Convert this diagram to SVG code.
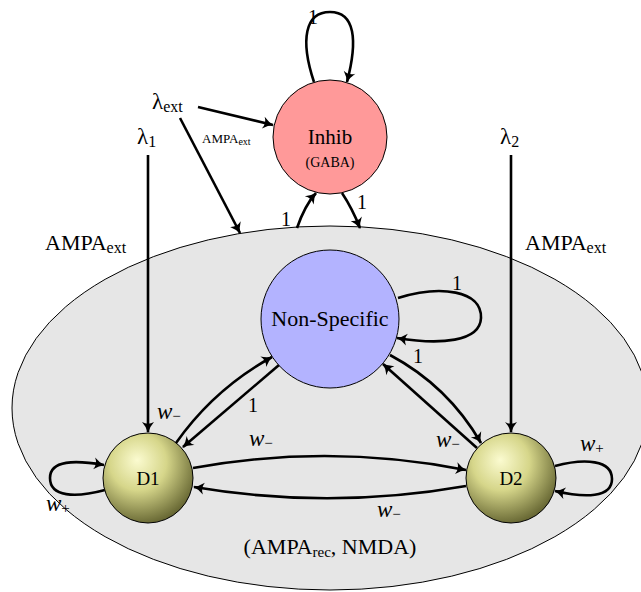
<svg xmlns="http://www.w3.org/2000/svg" width="641" height="592" viewBox="0 0 641 592">
<style>
text{font-family:"Liberation Serif","DejaVu Serif",serif;fill:#000}
.e{fill:none;stroke:#000;stroke-width:2.6;marker-end:url(#ah)}
.n{stroke:#000;stroke-width:1}
.lbl{font-size:20px}
.w{font-size:23px;font-style:italic}
.sub{font-size:15px;font-style:normal}
</style>
<defs>
<marker id="ah" markerUnits="userSpaceOnUse" markerWidth="16" markerHeight="16" viewBox="-12 -8 14 16" refX="0" refY="0" orient="auto">
<path d="M1,0 Q-5,-1.5 -10,-6 Q-6.5,0 -10,6 Q-5,1.5 1,0Z" fill="#000"/>
</marker>
<radialGradient id="ball" cx="40%" cy="35%" r="70%" fx="38%" fy="30%">
<stop offset="0" stop-color="#fbfbd0"/>
<stop offset="0.45" stop-color="#d6d68a"/>
<stop offset="1" stop-color="#5e5e2c"/>
</radialGradient>
</defs>
<g id="population">
<ellipse cx="330" cy="408" rx="318" ry="182" fill="#e6e6e6" class="n"/>
<text x="330" y="554" font-size="22" text-anchor="middle">(AMPA<tspan font-size="15" dy="3">rec</tspan><tspan dy="-3">, NMDA)</tspan></text>
</g>
<g id="connectors">
<path class="e" d="M314,82 C300,40 305,12 330,12 C355,12 358,40 347,82"/>
<path class="e" d="M198,107 L273,125"/>
<path class="e" d="M180,118 L240,233"/>
<path class="e" d="M297,228 Q305,205 316,193"/>
<path class="e" d="M342,193 Q352,208 360,228"/>
<path class="e" d="M148,155 L148,432"/>
<path class="e" d="M511,155 L511,432"/>
<path class="e" d="M398,298 C440,285 482,290 481,318 C480,342 440,345 397,338"/>
<path class="e" d="M176,443 Q214,389 272,357"/>
<path class="e" d="M279,365 L183,447"/>
<path class="e" d="M390,355 Q448,386 481,443"/>
<path class="e" d="M477,448 L383,364"/>
<path class="e" d="M193,468 Q330,443 466,470"/>
<path class="e" d="M466,486 Q330,510 194,487"/>
<path class="e" d="M105,490 C75,498 50,497 50,478 C50,460 75,460 104,465"/>
<path class="e" d="M555,466 C585,458 612,460 612,479 C612,498 585,498 555,491"/>
<text class="lbl" x="308" y="24">1</text>
<text class="lbl" x="281" y="226">1</text>
<text class="lbl" x="357" y="209">1</text>
<text class="lbl" x="452" y="290">1</text>
<text class="lbl" x="413" y="363">1</text>
<text class="lbl" x="248" y="412">1</text>
<text x="152" y="109" font-size="23">λ<tspan font-size="16" dy="3">ext</tspan></text>
<text x="202" y="143" font-size="13">AMPA<tspan font-size="10" dy="2">ext</tspan></text>
<text x="137" y="144" font-size="23">λ<tspan font-size="16" dy="3">1</tspan></text>
<text x="500" y="144" font-size="23">λ<tspan font-size="16" dy="3">2</tspan></text>
<text x="45" y="250" font-size="22">AMPA<tspan font-size="16" dy="3">ext</tspan></text>
<text x="525" y="250" font-size="22">AMPA<tspan font-size="16" dy="3">ext</tspan></text>
<text class="w" x="157" y="419">w<tspan class="sub" dy="2">−</tspan></text>
<text class="w" x="249" y="446">w<tspan class="sub" dy="2">−</tspan></text>
<text class="w" x="436" y="447">w<tspan class="sub" dy="2">−</tspan></text>
<text class="w" x="377" y="517">w<tspan class="sub" dy="2">−</tspan></text>
<text class="w" x="580" y="451">w<tspan class="sub" dy="2">+</tspan></text>
<text class="w" x="46" y="511">w<tspan class="sub" dy="2">+</tspan></text>
</g>
<g id="inhib">
<circle cx="330" cy="137" r="57" fill="#ff9999" class="n"/>
<text x="330" y="144" font-size="21" text-anchor="middle">Inhib</text>
<text x="330" y="167" font-size="14" text-anchor="middle">(GABA)</text>
</g>
<g id="nonspecific">
<circle cx="330" cy="319" r="69" fill="#b3b3ff" class="n"/>
<text x="330" y="326" font-size="22" text-anchor="middle">Non-Specific</text>
</g>
<g id="d1">
<circle cx="148" cy="478" r="45" fill="url(#ball)" class="n"/>
<text x="148" y="485" font-size="19" text-anchor="middle">D1</text>
</g>
<g id="d2">
<circle cx="511" cy="478" r="45" fill="url(#ball)" class="n"/>
<text x="511" y="485" font-size="19" text-anchor="middle">D2</text>
</g>
</svg>
